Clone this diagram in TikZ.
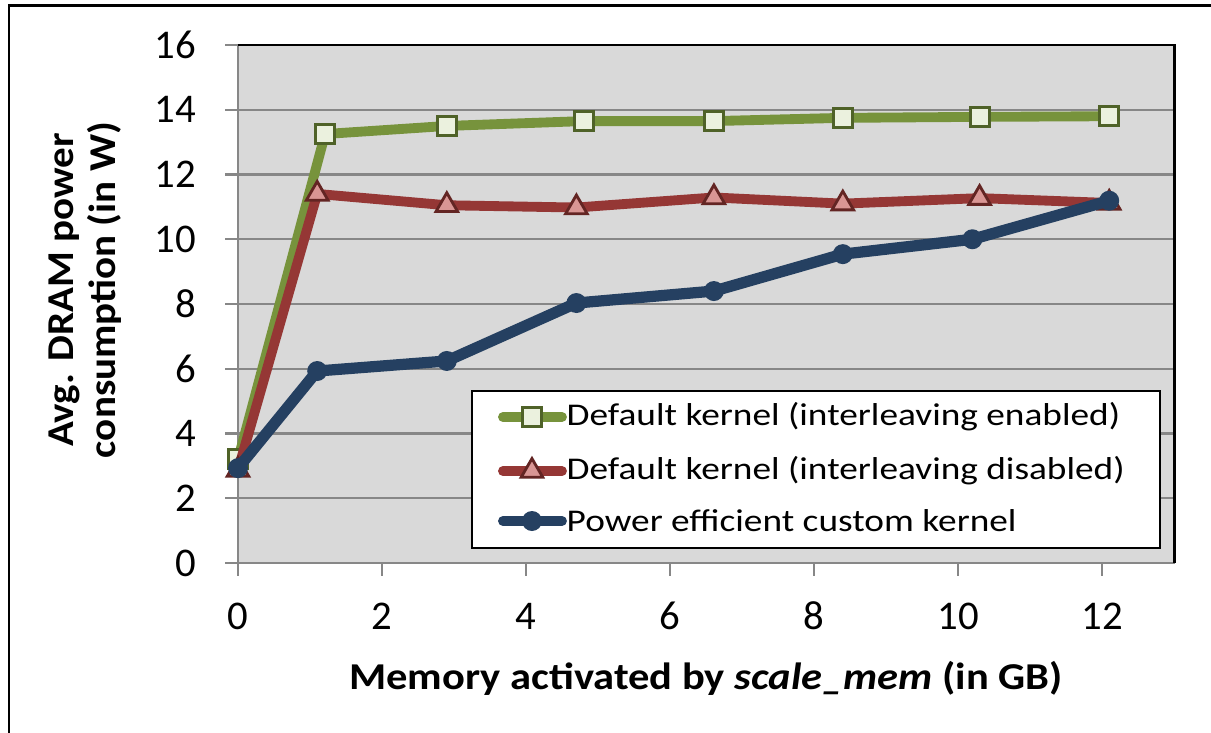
\documentclass[tikz,border=0pt]{standalone}
\usepackage{fontspec}
\setmainfont{Carlito}
\newfontfamily\keyfont{Carlito}[FakeStretch=1.18]
\newfontfamily\titlefont{Carlito}[FakeStretch=1.12]
\newfontfamily\ytitlefont{Carlito}[FakeStretch=1.08]
\usetikzlibrary{shapes.geometric}
\definecolor{plotgray}{HTML}{D9D9D9}
\definecolor{gridgray}{HTML}{878787}
\definecolor{grn}{HTML}{77933C}
\definecolor{grnd}{HTML}{4F6228}
\definecolor{grnl}{HTML}{EBF1DE}
\definecolor{red}{HTML}{953735}
\definecolor{redd}{HTML}{632523}
\definecolor{redl}{HTML}{D99694}
\definecolor{blu}{HTML}{254061}

\begin{document}
\begin{tikzpicture}[x=0.72cm,y=0.32375cm,
    grid line/.style={draw=gridgray,line width=0.6pt},
    serie/.style={line width=2.8pt,line join=round},
    sq mark/.style={rectangle,draw=grnd,fill=grnl,line width=0.8pt,minimum size=0.19cm,inner sep=0pt},
    tri mark/.style={regular polygon,regular polygon sides=3,draw=redd,fill=redl,line width=0.8pt,minimum size=0.25cm,inner sep=0pt},
    dot mark/.style={circle,fill=blu,minimum size=0.2cm,inner sep=0pt},
    tick lbl/.style={font=\fontsize{11.6}{14}\selectfont,inner sep=0pt},
    axis title/.style={font=\bfseries\fontsize{10.8}{12}\selectfont,inner sep=0pt},
    key text/.style={font=\keyfont\fontsize{9}{11}\selectfont,anchor=west,inner sep=0pt}]
\useasboundingbox (-3.3056,-5.251) rectangle (13.514,17.39);
\draw[line width=0.6pt] (-3.18,-5.251) -- (-3.18,17.22) -- (13.514,17.22);

\fill[plotgray] (0,0) rectangle (13.01,16);
\foreach \v in {2,4,...,14}
  \draw[grid line] (0,\v) -- (13.01,\v);
\foreach \v in {0,2,...,16}
  \draw[grid line] (-0.18,\v) -- (0,\v);
\foreach \v in {0,2,...,12}
  \draw[grid line] (\v,0) -- (\v,-0.4);
\draw[grid line] (0,16) -- (0,0) -- (13.01,0);
\draw[line width=0.8pt] (0,16) -- (13.01,16) -- (13.01,0);

\foreach \v in {0,2,...,16}
  \node[tick lbl,anchor=east] (yl\v) at (-0.57,\v) {\v};
\foreach \v in {0,2,...,12}
  \node[tick lbl] (xl\v) at (\v,-1.64) {\v};
\node[axis title,font=\ytitlefont\bfseries\fontsize{10.8}{12}\selectfont,rotate=90,align=center] (ytitle) at (-2.12,8.43) {Avg. DRAM power\\consumption (in W)};
\node[axis title,font=\titlefont\bfseries\fontsize{10.8}{12}\selectfont,anchor=base] (xtitle) at (6.5,-3.92) {Memory activated by \textit{scale\_mem} (in GB)};

\foreach \x/\y [count=\i] in {0/3.2,1.21/13.25,2.9/13.5,4.8/13.65,6.61/13.65,8.4/13.75,10.3/13.78,12.1/13.8}
  \coordinate (g\i) at (\x,\y);
\foreach \x/\y [count=\i] in {0/2.87,1.1/11.4,2.9/11.05,4.7/10.98,6.61/11.29,8.4/11.1,10.3/11.27,12.1/11.12}
  \coordinate (r\i) at (\x,\y);
\foreach \x/\y [count=\i] in {0/2.93,1.1/5.93,2.9/6.24,4.7/8.03,6.61/8.4,8.4/9.54,10.2/10.0,12.1/11.19}
  \coordinate (b\i) at (\x,\y);

\draw[serie,grn] (g1) \foreach \i in {2,...,8} { -- (g\i) };
\foreach \i in {1,...,8}
  \node[sq mark] (gm\i) at (g\i) {};
\draw[serie,red] (r1) \foreach \i in {2,...,8} { -- (r\i) };
\foreach \i in {1,...,8}
  \node[tri mark] (rm\i) at (r\i) {};
\draw[serie,blu,line width=3.2pt] (b1) \foreach \i in {2,...,8} { -- (b\i) };
\foreach \i in {1,...,8}
  \node[dot mark] (bm\i) at (b\i) {};

\node[draw,fill=white,line width=0.6pt,minimum width=6.88cm,minimum height=1.57cm,inner sep=0pt] (legend) at (8.028,2.888) {};
\foreach \n/\y/\c/\m/\t in {1/4.51/grn/sq mark/Default kernel (interleaving enabled),
    2/2.84/red/tri mark/Default kernel (interleaving disabled),
    3/1.297/blu/dot mark/Power efficient custom kernel} {
  \coordinate (ka\n) at (3.68,\y);
  \coordinate (kb\n) at (4.5,\y);
  \draw[serie,\c,line cap=round] (ka\n) -- (kb\n);
  \node[\m] (km\n) at (4.083,\y) {};
  \node[key text] (kt\n) at (4.556,\y) {\t};
}
\end{tikzpicture}
\end{document}
